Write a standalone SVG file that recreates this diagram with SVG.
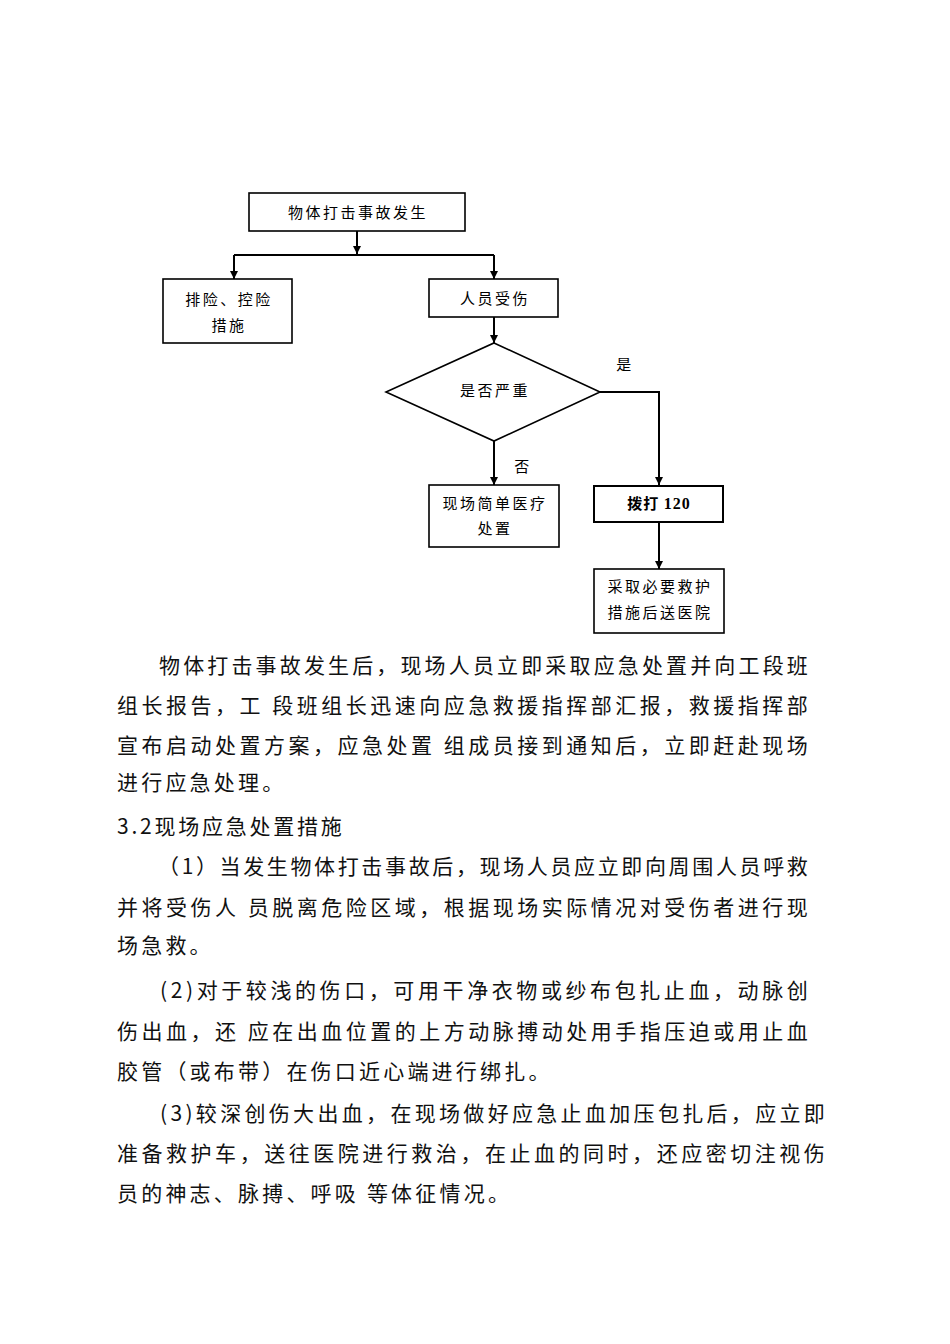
<svg xmlns="http://www.w3.org/2000/svg" width="950" height="1344" viewBox="0 0 950 1344">
<defs>
<marker id="arr" viewBox="0 0 10 10" refX="10" refY="5" markerWidth="8" markerHeight="8" markerUnits="userSpaceOnUse" orient="auto">
<path d="M0,0 L10,5 L0,10 z" fill="#000"/>
</marker>
<style>
.box{fill:#fff;stroke:#000;stroke-width:1.6}
.lbl{font-family:"Noto Sans CJK SC","Noto Sans CJK TC",sans-serif;font-size:15px;fill:#000;text-anchor:middle;letter-spacing:2.5px}
.con{fill:none;stroke:#000;stroke-width:2}
.body{font-family:"Noto Sans CJK SC","Noto Sans CJK TC",sans-serif;font-size:21px;fill:#111;letter-spacing:3.2px}
</style>
</defs>
<rect width="950" height="1344" fill="#fff"/>

<g id="connectors">
<path class="con" d="M357,231 V254" marker-end="url(#arr)"/>
<path class="con" d="M234,255 H494"/>
<path class="con" d="M234,255 V279" marker-end="url(#arr)"/>
<path class="con" d="M494,255 V279" marker-end="url(#arr)"/>
<path class="con" d="M494,317 V343" marker-end="url(#arr)"/>
<path class="con" d="M494,441 V485" marker-end="url(#arr)"/>
<path class="con" d="M600,392 H659 V485" marker-end="url(#arr)"/>
<path class="con" d="M659,522 V569" marker-end="url(#arr)"/>
<text class="lbl" x="625" y="370">是</text>
<text class="lbl" x="523" y="472">否</text>
</g>

<g id="n-start">
<rect class="box" x="249" y="193" width="216" height="38"/>
<text class="lbl" x="358" y="218">物体打击事故发生</text>
</g>
<g id="n-control">
<rect class="box" x="163" y="279" width="129" height="64"/>
<text class="lbl" x="229" y="305">排险、控险</text>
<text class="lbl" x="229" y="331">措施</text>
</g>
<g id="n-injured">
<rect class="box" x="429" y="279" width="129" height="38"/>
<text class="lbl" x="495" y="304">人员受伤</text>
</g>
<g id="n-decision">
<polygon class="box" points="494,343 600,392 494,441 386,392"/>
<text class="lbl" x="495" y="396">是否严重</text>
</g>
<g id="n-simple">
<rect class="box" x="429" y="485" width="130" height="62"/>
<text class="lbl" x="495" y="509">现场简单医疗</text>
<text class="lbl" x="495" y="534">处置</text>
</g>
<g id="n-call">
<rect class="box" x="594" y="486" width="129" height="36" style="stroke-width:2"/>
<text class="lbl" x="659" y="509" style="font-weight:bold;letter-spacing:1px">拨打 <tspan style="font-family:'Liberation Serif',serif;font-size:16px">120</tspan></text>
</g>
<g id="n-hospital">
<rect class="box" x="594" y="569" width="130" height="64"/>
<text class="lbl" x="660" y="592">采取必要救护</text>
<text class="lbl" x="660" y="618">措施后送医院</text>
</g>

<g id="body-text">
<text class="body" x="159" y="673" textLength="652" lengthAdjust="spacing">物体打击事故发生后，现场人员立即采取应急处置并向工段班</text>
<text class="body" x="117" y="713" textLength="694" lengthAdjust="spacing">组长报告，工 段班组长迅速向应急救援指挥部汇报，救援指挥部</text>
<text class="body" x="117" y="753" textLength="694" lengthAdjust="spacing">宣布启动处置方案，应急处置 组成员接到通知后，立即赶赴现场</text>
<text class="body" x="117" y="790">进行应急处理。</text>
<text class="body" x="117" y="834" textLength="228" lengthAdjust="spacing">3.2现场应急处置措施</text>
<text class="body" x="158" y="874" textLength="653" lengthAdjust="spacing">（1）当发生物体打击事故后，现场人员应立即向周围人员呼救</text>
<text class="body" x="117" y="915" textLength="694" lengthAdjust="spacing">并将受伤人 员脱离危险区域，根据现场实际情况对受伤者进行现</text>
<text class="body" x="117" y="953">场急救。</text>
<text class="body" x="160" y="998" textLength="651" lengthAdjust="spacing">(2)对于较浅的伤口，可用干净衣物或纱布包扎止血，动脉创</text>
<text class="body" x="117" y="1039" textLength="694" lengthAdjust="spacing">伤出血，还 应在出血位置的上方动脉搏动处用手指压迫或用止血</text>
<text class="body" x="117" y="1079">胶管（或布带）在伤口近心端进行绑扎。</text>
<text class="body" x="160" y="1121" textLength="668" lengthAdjust="spacing">(3)较深创伤大出血，在现场做好应急止血加压包扎后，应立即</text>
<text class="body" x="117" y="1161" textLength="711" lengthAdjust="spacing">准备救护车，送往医院进行救治，在止血的同时，还应密切注视伤</text>
<text class="body" x="117" y="1201">员的神志、脉搏、呼吸 等体征情况。</text>
</g>
</svg>
